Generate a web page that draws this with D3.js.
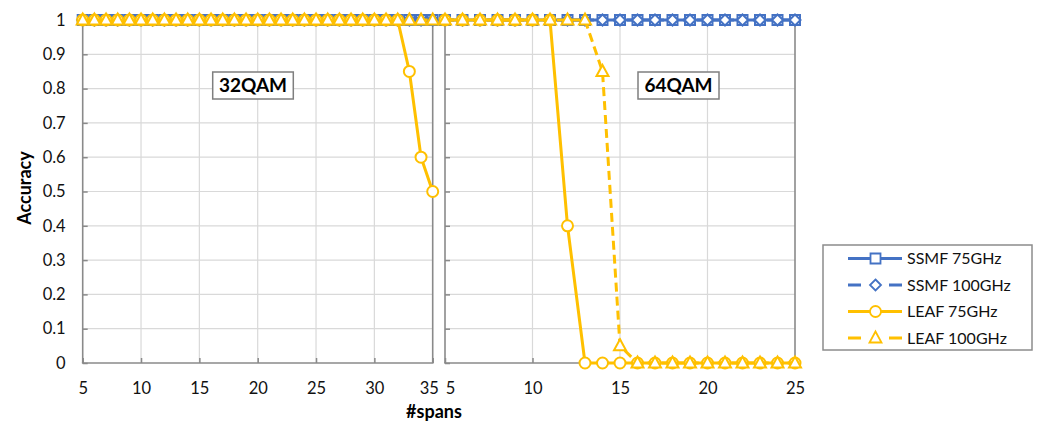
<!DOCTYPE html>
<html>
<head>
<meta charset="utf-8">
<script src="https://cdn.jsdelivr.net/npm/d3@7"></script>
<style>
  html, body { margin: 0; padding: 0; background: #fff; }
  svg { display: block; font-family: Lato, "Open Sans", sans-serif; }
</style>
</head>
<body>
<svg id="chart" width="1037" height="423"></svg>
<script>
// Spans and accuracies, 32QAM panel
const spans32 = [5,6,7,8,9,10,11,12,13,14,15,16,17,18,19,20,21,22,23,24,25,26,27,28,29,30,31,32,33,34,35];
const ssmf75_32  = [1,1,1,1,1,1,1,1,1,1,1,1,1,1,1,1,1,1,1,1,1,1,1,1,1,1,1,1,1,1,1];
const ssmf100_32 = [1,1,1,1,1,1,1,1,1,1,1,1,1,1,1,1,1,1,1,1,1,1,1,1,1,1,1,1,1,1,1];
const leaf75_32  = [1,1,1,1,1,1,1,1,1,1,1,1,1,1,1,1,1,1,1,1,1,1,1,1,1,1,1,1,0.85,0.6,0.5];
const leaf100_32 = [1,1,1,1,1,1,1,1,1,1,1,1,1,1,1,1,1,1,1,1,1,1,1,1,1,1,1,1,1,1,1];

// Spans and accuracies, 64QAM panel
const spans64 = [5,6,7,8,9,10,11,12,13,14,15,16,17,18,19,20,21,22,23,24,25];
const ssmf75_64  = [1,1,1,1,1,1,1,1,1,1,1,1,1,1,1,1,1,1,1,1,1];
const ssmf100_64 = [1,1,1,1,1,1,1,1,1,1,1,1,1,1,1,1,1,1,1,1,1];
const leaf75_64  = [1,1,1,1,1,1,1,0.4,0,0,0,0,0,0,0,0,0,0,0,0,0];
const leaf100_64 = [1,1,1,1,1,1,1,1,1,0.85,0.05,0,0,0,0,0,0,0,0,0,0];

const yTicks = [0,0.1,0.2,0.3,0.4,0.5,0.6,0.7,0.8,0.9,1];
const xTicks32 = [5,10,15,20,25,30,35];
const xTicks64 = [5,10,15,20,25];

const seriesNames = ["SSMF 75GHz", "SSMF 100GHz", "LEAF 75GHz", "LEAF 100GHz"];
const panelLabels = ["32QAM", "64QAM"];

const BLUE = "#4472C4", YELLOW = "#FFC000";
const AXIS = "#8a8a8a", GRID = "#d9d9d9", TEXT = "#111";

const styles = [
  { color: BLUE,   dash: null,  marker: "square"  },
  { color: BLUE,   dash: "9,5", marker: "diamond" },
  { color: YELLOW, dash: null,  marker: "circle"  },
  { color: YELLOW, dash: "9,5", marker: "triangle"}
];

const svg = d3.select("#chart");
const y = d3.scaleLinear().domain([0, 1]).range([363, 20]);

function markerPath(type) {
  switch (type) {
    case "square":   return "M-5,-5H5V5H-5Z";
    case "diamond":  return "M0,-5.5L5.5,0L0,5.5L-5.5,0Z";
    case "circle":   return "M5.5,0A5.5,5.5 0 1,1 -5.5,0A5.5,5.5 0 1,1 5.5,0Z";
    case "triangle": return "M0,-6.5L6,4.5L-6,4.5Z";
  }
}

function drawPanel(opts) {
  const { spans, series, domain, x0, x1, xTicks, label, labelBox, showY } = opts;
  const x = d3.scaleLinear().domain(domain).range([x0, x1]);
  const g = svg.append("g");

  // gridlines
  g.append("g").selectAll("line.h").data(yTicks.filter(v => v > 0)).join("line")
    .attr("x1", x0).attr("x2", x1).attr("y1", d => y(d)).attr("y2", d => y(d))
    .attr("stroke", GRID).attr("stroke-width", 1.2);
  g.append("g").selectAll("line.v").data(xTicks.slice(1, -1)).join("line")
    .attr("x1", d => x(d)).attr("x2", d => x(d)).attr("y1", y(1)).attr("y2", y(0))
    .attr("stroke", GRID).attr("stroke-width", 1.2);

  // left axis with inward ticks
  const ya = d3.axisLeft(y).tickValues(yTicks).tickSize(-5).tickPadding(17)
    .tickFormat(d => showY ? d3.format("")(+d.toFixed(1)) : "");
  const yg = g.append("g").attr("transform", `translate(${x0},0)`).call(ya);
  yg.select(".domain").remove();
  yg.selectAll(".tick line").attr("stroke", AXIS).attr("stroke-width", 1.5);
  yg.selectAll("text").attr("font-size", 16.5).attr("fill", TEXT).attr("font-family", "Lato, sans-serif");
  g.append("line").attr("x1", x0).attr("x2", x0).attr("y1", y(1)).attr("y2", y(0))
    .attr("stroke", AXIS).attr("stroke-width", 1.6);
  // right border
  g.append("line").attr("x1", x1).attr("x2", x1).attr("y1", y(1)).attr("y2", y(0))
    .attr("stroke", AXIS).attr("stroke-width", 1.6);

  // bottom axis with inward ticks
  const xa = d3.axisBottom(x).tickValues(xTicks).tickSize(-5).tickPadding(19).tickFormat(d3.format("d"));
  const xg = g.append("g").attr("transform", `translate(0,${y(0)})`).call(xa);
  xg.select(".domain").remove();
  xg.selectAll(".tick line").attr("stroke", AXIS).attr("stroke-width", 1.5);
  xg.selectAll("text").attr("font-size", 16.5).attr("fill", TEXT).attr("font-family", "Lato, sans-serif");
  g.append("line").attr("x1", x0 - 0.8).attr("x2", x1 + 0.8).attr("y1", y(0)).attr("y2", y(0))
    .attr("stroke", AXIS).attr("stroke-width", 1.6);

  // series lines and markers
  series.forEach((vals, i) => {
    const st = styles[i];
    const pts = spans.map((s, j) => [s, vals[j]]);
    g.append("path").datum(pts)
      .attr("d", d3.line().x(d => x(d[0])).y(d => y(d[1])))
      .attr("fill", "none").attr("stroke", st.color).attr("stroke-width", 3)
      .attr("stroke-dasharray", st.dash).attr("stroke-linejoin", "round");
    g.append("g").selectAll("path").data(pts).join("path")
      .attr("transform", d => `translate(${x(d[0])},${y(d[1])})`)
      .attr("d", markerPath(st.marker))
      .attr("fill", "#fff").attr("stroke", st.color).attr("stroke-width", 2);
  });

  // panel title box
  const lb = g.append("g");
  lb.append("rect").attr("x", labelBox[0]).attr("y", labelBox[1])
    .attr("width", labelBox[2]).attr("height", labelBox[3])
    .attr("fill", "#fff").attr("stroke", "#7f7f7f").attr("stroke-width", 1.5);
  lb.append("text").attr("x", labelBox[0] + labelBox[2] / 2).attr("y", labelBox[1] + labelBox[3] / 2)
    .attr("dy", "0.36em").attr("text-anchor", "middle")
    .attr("font-size", 19).attr("font-weight", "bold").attr("fill", "#000").text(label);

  return xg;
}

const xgL = drawPanel({
  spans: spans32, series: [ssmf75_32, ssmf100_32, leaf75_32, leaf100_32],
  domain: [5, 35], x0: 82.7, x1: 432.7, xTicks: xTicks32,
  label: panelLabels[0], labelBox: [212.7, 72, 80.6, 27], showY: true
});
const xgR = drawPanel({
  spans: spans64, series: [ssmf75_64, ssmf100_64, leaf75_64, leaf100_64],
  domain: [5, 25], x0: 445, x1: 795, xTicks: xTicks64,
  label: panelLabels[1], labelBox: [638, 72, 81, 27], showY: false
});
// keep the touching labels at the panel seam apart
xgL.selectAll(".tick text").filter(d => d === 35).attr("dx", -4);
xgR.selectAll(".tick text").filter(d => d === 5).attr("dx", 5);

// axis titles
svg.append("text").attr("transform", "translate(25,188) rotate(-90)")
  .attr("text-anchor", "middle").attr("dy", "0.36em")
  .attr("font-size", 18).attr("font-weight", "bold").attr("fill", "#000").text("Accuracy");
svg.append("text").attr("x", 434).attr("y", 412).attr("dy", "0.36em")
  .attr("text-anchor", "middle").attr("font-size", 18).attr("font-weight", "bold")
  .attr("fill", "#000").text("#spans");

// legend
const leg = svg.append("g");
leg.append("rect").attr("x", 823).attr("y", 245).attr("width", 209).attr("height", 105)
  .attr("fill", "#fff").attr("stroke", "#8c8c8c").attr("stroke-width", 1.5);
const legY = [258.5, 285, 311.5, 338];
seriesNames.forEach((name, i) => {
  const st = styles[i];
  const row = leg.append("g").attr("transform", `translate(0,${legY[i]})`);
  row.append("line").attr("x1", 848).attr("x2", 902).attr("y1", 0).attr("y2", 0)
    .attr("stroke", st.color).attr("stroke-width", 3)
    .attr("stroke-dasharray", st.dash ? "13,28" : null);
  row.append("path").attr("transform", "translate(875.5,0)").attr("d", markerPath(st.marker))
    .attr("fill", "#fff").attr("stroke", st.color).attr("stroke-width", 1.8);
  row.append("text").attr("x", 907).attr("y", 0).attr("dy", "0.36em")
    .attr("font-size", 16).attr("fill", TEXT).text(name);
});
</script>
</body>
</html>
